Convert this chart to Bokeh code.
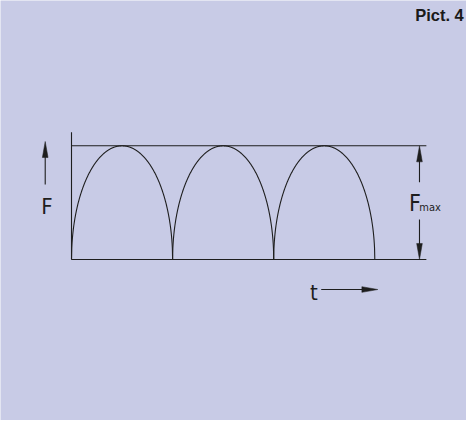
import numpy as np
from bokeh.plotting import figure
from bokeh.models import Range1d, Label
from bokeh.embed import file_html
from bokeh.resources import INLINE

# ---- data (schematic: three force pulses reaching F_max) ----
pulse_starts = [0.0, 1.0, 2.0]   # start of each pulse (in periods)
pulse_width = 1.0                # duration of each pulse
F_max = 1.0                      # peak force
line_end_t = 3.51                # reference lines extend to here
axis_top_F = 1.12                # top of the vertical F axis
fmax_arrow_t = 3.442             # position of the F_max dimension arrow
labels_text = ["F", "F", "max", "t", "Pict. 4"]

BG = "#c8cbe6"
INK = "#1e1e1e"
NARROW = "'Liberation Sans Narrow', 'DejaVu Sans Condensed', 'Arial Narrow', sans-serif"

p = figure(width=466, height=420, output_backend="svg", toolbar_location=None,
           x_range=Range1d(-0.7023, 3.907), y_range=Range1d(-1.416, 2.278),
           min_border=0, outline_line_color=None,
           background_fill_color=BG, border_fill_color=BG)
p.axis.visible = False
p.grid.visible = False

# pulses (semi-elliptic arches)
xs, ys = [], []
for s in pulse_starts:
    u = np.linspace(-1, 1, 401)
    xs.append(s + pulse_width / 2 * (1 + u))
    ys.append(F_max * np.sqrt(np.clip(1 - u ** 2, 0, 1)))
p.multi_line(xs, ys, line_color=INK, line_width=1.1)

# reference lines
p.multi_line([[0, line_end_t], [0, line_end_t], [0, 0]],
             [[0, 0], [F_max, F_max], [0, axis_top_F]],
             line_color=INK, line_width=1.1)

# arrows
HL_T, HL_F = 0.158, 0.141   # head length in data units
HW_T, HW_F = 0.028, 0.025   # head half-width in data units

def v_arrow(x, f0, f1):
    d = 1 if f1 > f0 else -1
    p.line([x, x], [f0, f1 - d * HL_F * 0.5], line_color=INK, line_width=1.1)
    p.patch([x - HW_T, x, x + HW_T], [f1 - d * HL_F, f1, f1 - d * HL_F],
            fill_color=INK, line_color=INK, line_width=0.5)

def h_arrow(f, t0, t1):
    p.line([t0, t1 - HL_T * 0.5], [f, f], line_color=INK, line_width=1.1)
    p.patch([t1 - HL_T, t1, t1 - HL_T], [f - HW_F, f, f + HW_F],
            fill_color=INK, line_color=INK, line_width=0.5)

v_arrow(-0.26, 0.66, 1.038)                 # F axis arrow
v_arrow(fmax_arrow_t, 0.68, F_max)          # F_max upper arrow
v_arrow(fmax_arrow_t, 0.352, 0.0)           # F_max lower arrow
h_arrow(-0.264, 2.47, 3.03)                 # time arrow

# texts
p.add_layout(Label(x=-0.30, y=0.464, text=labels_text[0], text_font=NARROW,
                   text_font_size="22px", text_color=INK, text_baseline="alphabetic"))
p.add_layout(Label(x=3.338, y=0.50, text=labels_text[1], text_font=NARROW,
                   text_font_size="23px", text_color=INK, text_baseline="alphabetic"))
p.add_layout(Label(x=3.44, y=0.455, text=labels_text[2], text_font=NARROW,
                   text_font_size="11px", text_color=INK, text_baseline="alphabetic"))
p.add_layout(Label(x=2.36, y=-0.29, text=labels_text[3], text_font=NARROW,
                   text_font_size="22px", text_color=INK, text_baseline="alphabetic"))
p.add_layout(Label(x=463.3, y=405.5, x_units="screen", y_units="screen",
                   text=labels_text[4], text_font="Liberation Sans",
                   text_font_style="bold", text_font_size="16.5px", text_color="#1a1a1a",
                   text_align="right", text_baseline="alphabetic"))

open("out.html", "w").write(file_html(p, INLINE))
